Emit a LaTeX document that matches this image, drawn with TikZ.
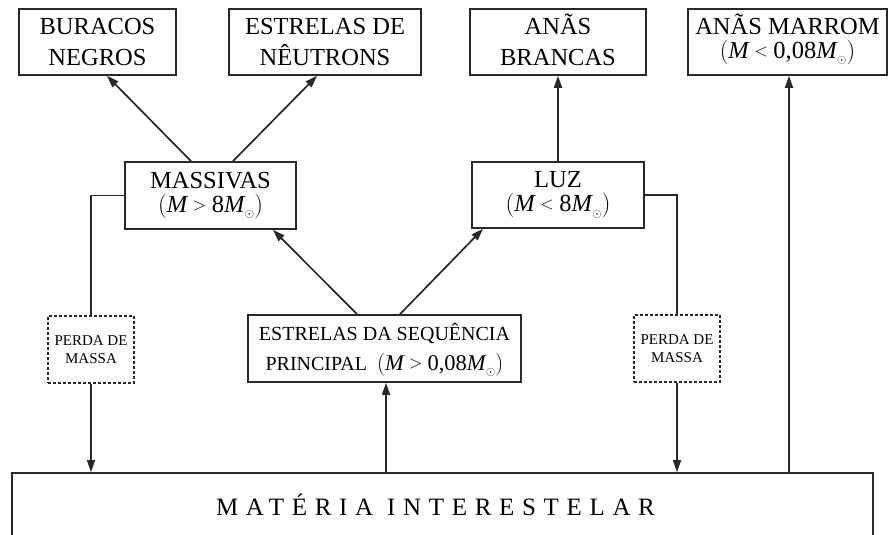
\RequirePackage{fix-cm}
\documentclass[tikz,border=0pt]{standalone}
\usepackage{fontspec}
\setmainfont{Liberation Serif}
\usetikzlibrary{arrows.meta}
\definecolor{lncol}{RGB}{40,40,40}
\newcommand{\Msol}{\textit{M}\kern0.5pt\mbox{\raisebox{-5.5pt}{\fontsize{12}{12}\selectfont$\odot$}}}
\newcommand{\relgt}{\mkern4mu\mbox{\raisebox{2pt}{\fontsize{18}{18}\selectfont$>$}}\mkern4mu}
\newcommand{\rellt}{\mkern4mu\mbox{\raisebox{2pt}{\fontsize{18}{18}\selectfont$<$}}\mkern4mu}
\newcommand{\firstln}[2]{\raisebox{0pt}[#1][0pt]{#2}}
\newcommand{\lastln}[2]{\raisebox{0pt}[0pt][#1]{#2}}
\tikzset{
  box/.style={draw=lncol, line width=1.7pt, rectangle, inner sep=0pt, align=center, text=black},
  losbox/.style={box, line width=1.5pt, dash pattern=on 3pt off 2pt},
  bigtxt/.style={font=\fontsize{24.5}{31}\selectfont},
  mathtxt/.style={font=\fontsize{24.5}{24}\selectfont},
  midtxt/.style={font=\fontsize{20}{30}\selectfont},
  smalltxt/.style={font=\fontsize{15}{17.5}\selectfont},
  arr/.style={draw=lncol, line width=1.7pt, -{Triangle[length=12pt,width=8pt]}},
  conn/.style={draw=lncol, line width=1.7pt},
}
\begin{document}
\begin{tikzpicture}[x=1pt,y=-1pt]
\clip (0,0) rectangle (889,535);
% top row
\node[box,bigtxt,minimum width=157pt,minimum height=66pt] (bur) at (97.5,42) {\firstln{17pt}{BURACOS}\\\lastln{0pt}{NEGROS}};
\node[box,bigtxt,minimum width=192pt,minimum height=66pt] (neu) at (325,42) {\firstln{17pt}{ESTRELAS DE}\\\lastln{0pt}{NÊUTRONS}};
\node[box,bigtxt,minimum width=176pt,minimum height=66pt] (bra) at (558,42) {\firstln{17pt}{ANÃS}\\\lastln{0pt}{BRANCAS}};
\node[box,mathtxt,minimum width=199pt,minimum height=66pt] (mar) at (787.5,42) {\firstln{17pt}{ANÃS MARROM}\\\lastln{8pt}{$\bigl(\textit{M}\rellt\mbox{0,08}\Msol\bigr)$}};
% middle row
\node[box,mathtxt,minimum width=171pt,minimum height=67pt] (mas) at (210.5,195.5) {\firstln{17pt}{MASSIVAS}\\\lastln{8pt}{$\bigl(\textit{M}\relgt\mbox{8}\Msol\bigr)$}};
\node[box,mathtxt,minimum width=172pt,minimum height=66pt] (luz) at (558,195) {\firstln{17pt}{LUZ}\\\lastln{8pt}{$\bigl(\textit{M}\rellt\mbox{8}\Msol\bigr)$}};
% lower row
\node[box,midtxt,minimum width=273pt,minimum height=67pt] (seq) at (384.5,348.5) {\firstln{14pt}{ESTRELAS DA SEQUÊNCIA}\\\lastln{1pt}{PRINCIPAL\ \ {\fontsize{22.5}{30}\selectfont$\bigl(\textit{M}\relgt\mbox{0,08}\Msol\bigr)$}}};
\node[losbox,smalltxt,minimum width=86pt,minimum height=67pt] (pl) at (91,349.5) {PERDA DE\\MASSA};
\node[losbox,smalltxt,minimum width=86pt,minimum height=67pt] (pr) at (677,348.5) {PERDA DE\\MASSA};
% bottom
\node[box,font=\fontsize{25}{30}\selectfont,minimum width=861pt,minimum height=64pt] (mat) at (442.5,505) {\addfontfeatures{LetterSpace=30.7}MATÉRIA INTERESTELAR\hspace*{14pt}};
% connectors
\draw[arr] ([xshift=-19.5pt]mas.north) -- ([xshift=9.5pt]bur.south);
\draw[arr] ([xshift=22.5pt]mas.north) -- ([xshift=-8pt]neu.south);
\draw[arr] (luz.north) -- (bra.south);
\draw[arr] ([xshift=1.5pt]mar.south |- mat.north) -- ([xshift=1.5pt]mar.south);
\draw[arr] ([xshift=-27.5pt]seq.north) -- ([xshift=62.5pt]mas.south);
\draw[arr] ([xshift=15.5pt]seq.north) -- ([xshift=-75pt]luz.south);
\draw[arr] ([xshift=1.5pt]seq.south |- mat.north) -- ([xshift=1.5pt]seq.south);
\draw[conn] (mas.west) -| (pl.north);
\draw[arr] (pl.south) -- (pl.south |- mat.north);
\draw[conn] (luz.east) -| (pr.north);
\draw[arr] (pr.south) -- (pr.south |- mat.north);
\end{tikzpicture}
\end{document}
